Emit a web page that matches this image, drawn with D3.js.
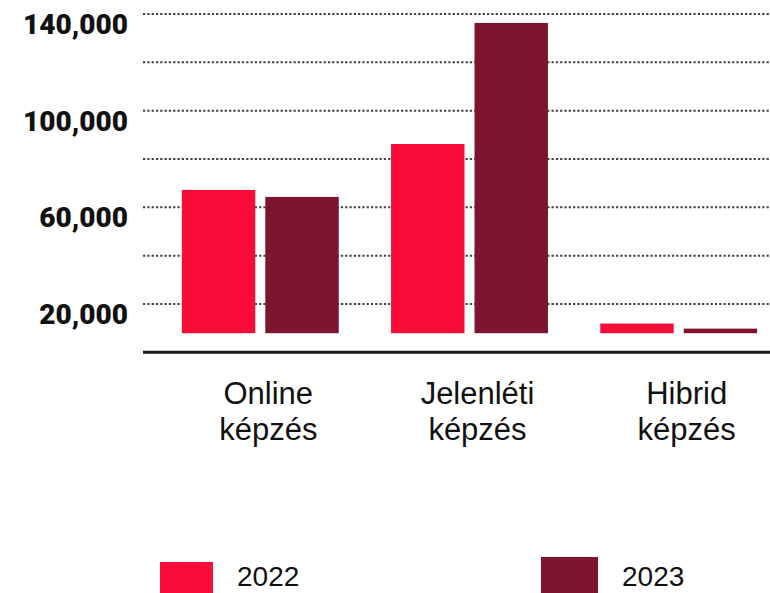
<!DOCTYPE html>
<html>
<head>
<meta charset="utf-8">
<script src="https://cdn.jsdelivr.net/npm/d3@7"></script>
<style>
  body { margin: 0; background: #fff; }
  svg { display: block; }
</style>
</head>
<body>
<div id="chart"></div>
<script>
// Data
const categories = ["Online képzés", "Jelenléti képzés", "Hibrid képzés"];
const years = ["2022", "2023"];
const values2022 = [67200, 86200, 11900];
const values2023 = [64300, 136300, 9800];
const barFloor = 7900; // bars in the original start a little above the axis
const gridTicks = [20000, 40000, 60000, 80000, 100000, 120000, 140000];
const labelTicks = [20000, 60000, 100000, 140000];
const colors = ["#f70d38", "#7d152e"];

const W = 770, H = 593;
const left = 143, right = 770;

const svg = d3.select("#chart")
    .append("svg")
    .attr("width", W)
    .attr("height", H);

// Scales
const yScale = d3.scaleLinear()
    .domain([0, 140000])
    .range([352.3, 14]);

const xOuter = d3.scaleBand()
    .domain(categories)
    .range([140, 799])
    .paddingInner(0.25)
    .paddingOuter(0.2);

const xInner = d3.scaleBand()
    .domain(years)
    .range([0, xOuter.bandwidth()])
    .paddingInner(0.12);

const color = d3.scaleOrdinal().domain(years).range(colors);

// Dotted gridlines
svg.selectAll(".grid")
    .data(gridTicks)
    .enter()
    .append("line")
    .attr("class", "grid")
    .attr("x1", left)
    .attr("x2", right)
    .attr("y1", d => yScale(d))
    .attr("y2", d => yScale(d))
    .style("stroke", "#444")
    .style("stroke-width", 2)
    .style("stroke-dasharray", "2.3,2");

// Bars
const rows = categories.map((c, i) => ({ cat: c, vals: [values2022[i], values2023[i]] }));

const groups = svg.selectAll(".group")
    .data(rows)
    .enter()
    .append("g")
    .attr("class", "group")
    .attr("transform", d => `translate(${xOuter(d.cat)}, 0)`);

groups.selectAll("rect")
    .data(d => d.vals.map((v, j) => ({ year: years[j], value: v })))
    .enter()
    .append("rect")
    .attr("x", d => xInner(d.year))
    .attr("width", xInner.bandwidth())
    .attr("y", d => yScale(d.value))
    .attr("height", d => yScale(barFloor) - yScale(d.value))
    .attr("fill", d => color(d.year));

// Baseline
svg.append("line")
    .attr("x1", left)
    .attr("x2", right)
    .attr("y1", yScale(0))
    .attr("y2", yScale(0))
    .style("stroke", "#1a1a1a")
    .style("stroke-width", 3);

// Y labels
const yAxis = svg.append("g")
    .attr("class", "y-axis")
    .attr("transform", `translate(${left}, 10.5)`)
    .call(d3.axisLeft(yScale)
        .tickValues(labelTicks)
        .tickSize(0)
        .tickPadding(15)
        .tickFormat(d3.format(",")));

yAxis.select(".domain").remove();
yAxis.selectAll("text")
    .style("font-family", "Roboto, 'Liberation Sans', sans-serif")
    .style("font-weight", 900)
    .style("font-size", "28px")
    .style("fill", "#111");

// Category labels (two lines)
const catLabels = svg.selectAll(".cat-label")
    .data(categories)
    .enter()
    .append("text")
    .attr("class", "cat-label")
    .attr("text-anchor", "middle")
    .style("font-family", "'Liberation Sans', Arial, sans-serif")
    .style("font-size", "31px")
    .style("fill", "#111");

catLabels.selectAll("tspan")
    .data(d => d.split(" ").map(w => ({ w, x: xOuter(d) + xOuter.bandwidth() / 2 + 8 })))
    .enter()
    .append("tspan")
    .attr("x", d => d.x)
    .attr("y", (d, i) => 404 + i * 36)
    .text(d => d.w);

// Legend
const legendX = [160, 541];
const legend = svg.selectAll(".legend")
    .data(years)
    .enter()
    .append("g")
    .attr("class", "legend")
    .attr("transform", (d, i) => `translate(${legendX[i]}, 0)`);

legend.append("rect")
    .attr("y", (d, i) => i === 0 ? 562 : 557)
    .attr("width", (d, i) => i === 0 ? 53 : 57)
    .attr("height", 40)
    .attr("fill", d => color(d));

legend.append("text")
    .attr("x", (d, i) => i === 0 ? 77 : 81)
    .attr("y", 586)
    .style("font-family", "'Liberation Sans', Arial, sans-serif")
    .style("font-size", "28px")
    .style("fill", "#111")
    .text(d => d);
</script>
</body>
</html>
